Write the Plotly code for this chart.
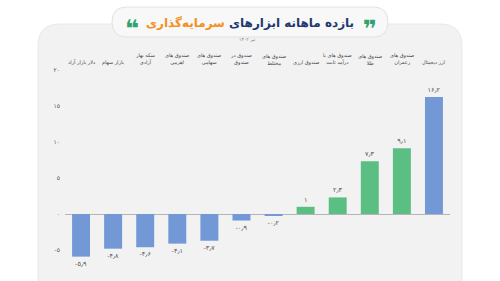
import plotly.graph_objects as go

categories = ["دلار بازار آزاد", "بازار سهام", "سکه بهار<br>آزادی", "صندوق های<br>اهرمی",
              "صندوق های<br>سهامی", "صندوق در<br>صندوق", "صندوق های<br>مختلط", "صندوق ارزی",
              "صندوق های با<br>درآمد ثابت", "صندوق های<br>طلا", "صندوق های<br>زعفران", "ارز دیجیتال"]
values = [-5.9, -4.8, -4.6, -4.1, -3.7, -0.9, -0.2, 1, 2.3, 7.3, 9.1, 16.2]
bar_colors = ["#7398d6"] * 7 + ["#5bbf83"] * 4 + ["#7398d6"]
y_ticks = [-5, 0, 5, 10, 15, 20]

FA = str.maketrans("0123456789.", "۰۱۲۳۴۵۶۷۸۹٫")
def fa(v):
    s = ("%g" % abs(v)).translate(FA)
    return ("-" + s) if v < 0 else s

W, H = 500, 281
ML, MR, MT, MB = 65, 50, 66, 2
PW, PH = W - ML - MR, H - MT - MB
X = lambda v: (v - ML) / PW
Y = lambda v: 1 - (v - MT) / PH

xs = list(range(len(categories)))
fig = go.Figure()
fig.add_trace(go.Bar(
    x=xs, y=values, marker=dict(color=bar_colors, line=dict(width=0)), width=0.56,
    text=[fa(v) for v in values], textposition="outside", cliponaxis=False,
    textfont=dict(family="DejaVu Sans", size=6.5, color="#555"),
    hoverinfo="skip"))

def rr(x0, y0, x1, y1, r):
    return (f"M {X(x0+r)},{Y(y0)} L {X(x1-r)},{Y(y0)} Q {X(x1)},{Y(y0)} {X(x1)},{Y(y0+r)} "
            f"L {X(x1)},{Y(y1-r)} Q {X(x1)},{Y(y1)} {X(x1-r)},{Y(y1)} L {X(x0+r)},{Y(y1)} "
            f"Q {X(x0)},{Y(y1)} {X(x0)},{Y(y1-r)} L {X(x0)},{Y(y0+r)} Q {X(x0)},{Y(y0)} {X(x0+r)},{Y(y0)} Z")

shapes = [
    dict(type="path", xref="paper", yref="paper", path=rr(38, 24, 462, 300, 22),
         fillcolor="#f2f2f2", line=dict(color="#e8e8e8", width=1), layer="below"),
    dict(type="path", xref="paper", yref="paper", path=rr(112, 7, 388, 37, 15),
         fillcolor="#f8f8f8", line=dict(color="#e2e2e2", width=1), layer="below"),
]

ann = []
for i, c in enumerate(categories):
    ann.append(dict(x=i, xref="x", y=Y(68), yref="paper", yanchor="bottom", text=c,
                    showarrow=False, align="center",
                    font=dict(family="DejaVu Sans", size=5, color="#444")))
ann += [
    dict(x=X(250), y=Y(14), xref="paper", yref="paper", showarrow=False,
         text="<b><span style='color:#1f3a70'>بازده ماهانه ابزارهای </span>"
              "<span style='color:#f5901e'>سرمایه‌گذاری</span></b>",
         font=dict(family="DejaVu Sans", size=12)),
    dict(x=X(247), y=Y(35), xref="paper", yref="paper", showarrow=False,
         text="تیر ۱۴۰۲", font=dict(family="DejaVu Sans", size=4.5, color="#777")),
    dict(x=X(379), y=Y(13), xref="paper", yref="paper", showarrow=False,
         text="<b>❞</b>", font=dict(family="DejaVu Sans", size=24, color="#2ea56e")),
    dict(x=X(123), y=Y(13), xref="paper", yref="paper", showarrow=False,
         text="<b>❝</b>", font=dict(family="DejaVu Sans", size=24, color="#2ea56e")),
]

fig.update_layout(
    width=W, height=H, margin=dict(l=ML, r=MR, t=MT, b=MB),
    paper_bgcolor="white", plot_bgcolor="rgba(0,0,0,0)",
    showlegend=False, shapes=shapes, annotations=ann,
    xaxis=dict(range=[-0.5, 11.5], showticklabels=False, showgrid=False, zeroline=False,
               showline=False, ticks=""),
    yaxis=dict(range=[-9, 20.5], tickvals=y_ticks, ticktext=[fa(t) for t in y_ticks],
               showgrid=False, zeroline=True, zerolinecolor="#b5b5b5", zerolinewidth=1,
               showline=False, ticks="", ticklabelstandoff=4,
               tickfont=dict(family="DejaVu Sans", size=6, color="#555")),
)
fig.write_html("out.html")
